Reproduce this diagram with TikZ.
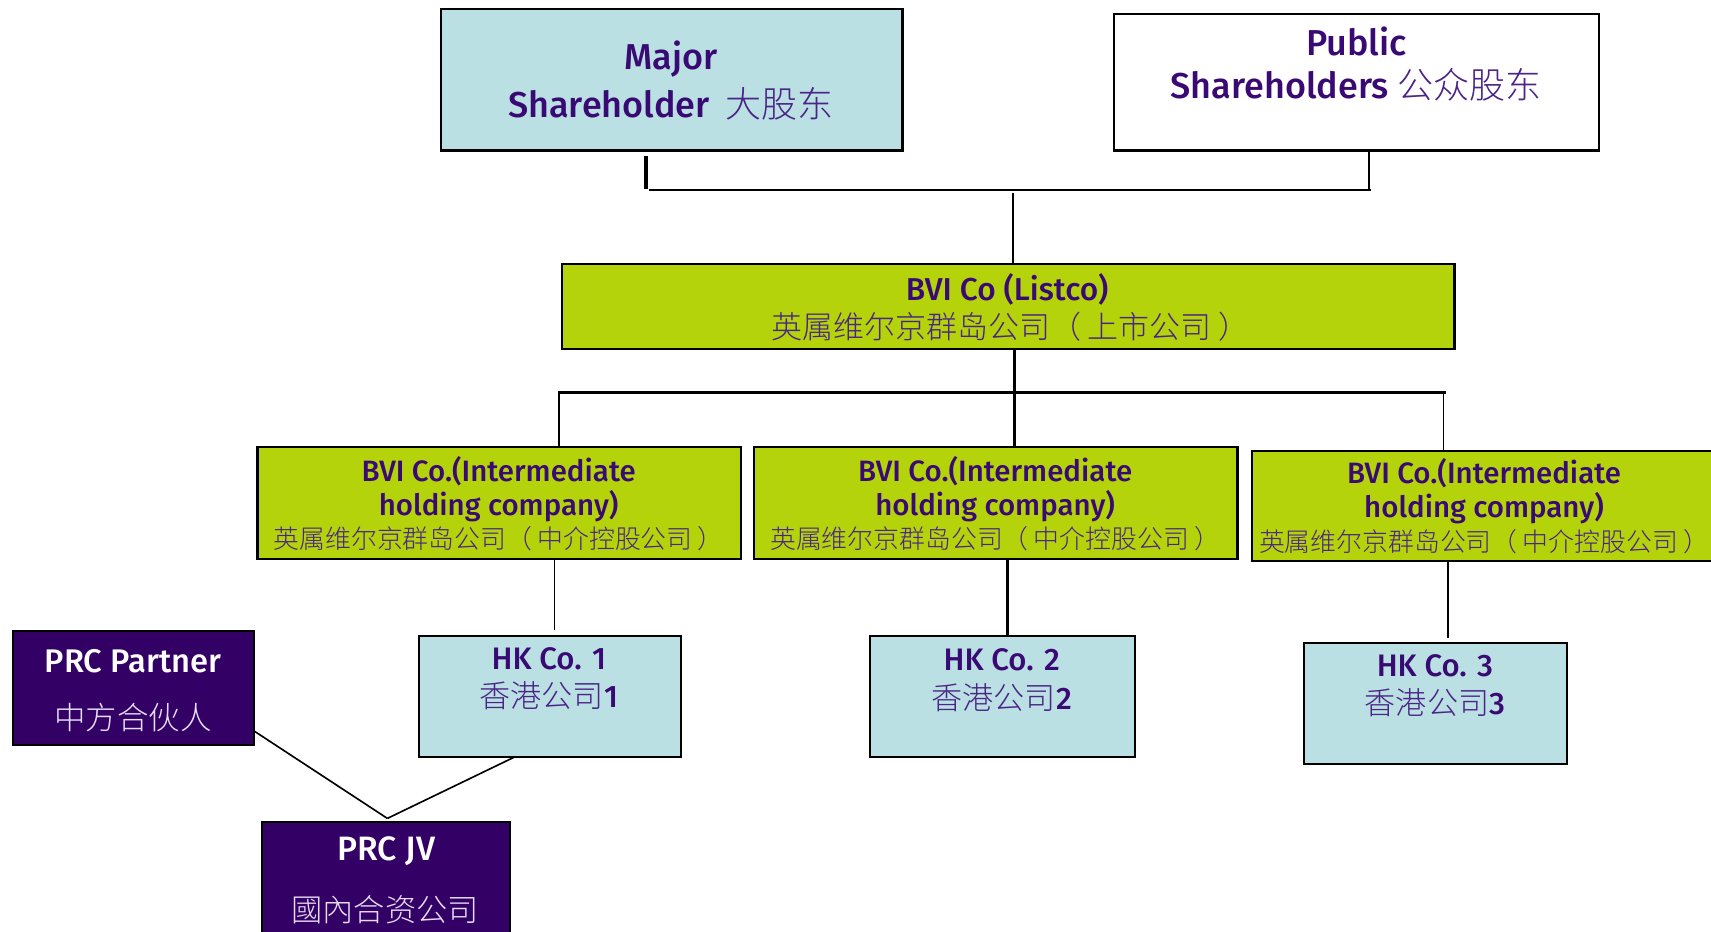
\documentclass[tikz,border=0pt]{standalone}
\usepackage{fontspec}
\setmainfont{Fira Sans}[BoldFont={Fira Sans Medium}]
\newfontfamily\cjk{Noto Sans CJK SC Light}
\usetikzlibrary{calc}
\definecolor{lblue}{HTML}{BBE0E3}
\definecolor{lgreen}{HTML}{B5D30B}
\definecolor{dpurple}{HTML}{330066}
\definecolor{tpurple}{HTML}{3A0A74}
\definecolor{cpurple}{HTML}{4A2486}
\definecolor{lilac}{HTML}{E6DDF2}
\newcommand{\fs}[1]{\fontsize{#1}{#1}\selectfont}
\newcommand{\lp}{（\hspace{0.2em}}
\newcommand{\rp}{\hspace{0.2em}）}
\begin{document}
\begin{tikzpicture}[x=1pt,y=-1pt,
  box/.style={draw=black, line width=2pt, inner sep=0pt, outer sep=0pt, rectangle},
  txt/.style={inner sep=0pt, anchor=center, text=tpurple, font=\bfseries},
  wtxt/.style={inner sep=0pt, anchor=center, text=white, font=\bfseries},
  conn/.style={draw=black, line width=2pt},
  thin/.style={draw=black, line width=1.5pt},
  thick/.style={draw=black, line width=3pt}]
\useasboundingbox (0,0) rectangle (1568,854);
% boxes
\node[box, fill=lblue, minimum width=423pt, minimum height=130pt] (major) at (615.5,73) {};
\node[box, fill=white, minimum width=444pt, minimum height=125pt] (public) at (1243,75.5) {};
\node[box, fill=lgreen, minimum width=818pt, minimum height=78pt] (listco) at (924,281) {};
\node[box, fill=lgreen, minimum width=443pt, minimum height=102pt] (int1) at (457.5,461) {};
\node[box, fill=lgreen, minimum width=443pt, minimum height=102pt] (int2) at (912.5,461) {};
\node[box, fill=lgreen, minimum width=428pt, minimum height=101pt] (int3) at (1361,463.5) {};
\node[box, fill=lblue, minimum width=240pt, minimum height=111pt] (hk1) at (504,638.5) {};
\node[box, fill=lblue, minimum width=243pt, minimum height=111pt] (hk2) at (918.5,638.5) {};
\node[box, fill=lblue, minimum width=241pt, minimum height=111pt] (hk3) at (1315.5,644.5) {};
\node[box, fill=dpurple, minimum width=221pt, minimum height=105pt] (prcp) at (122.5,630.5) {};
\node[box, fill=dpurple, minimum width=227pt, minimum height=110pt] (prcjv) at (353.5,808) {};
% texts
\node[txt] (t-major1) at (615,54) {\fs{33}Major};
\node[txt] (t-major2) at (615,95) {\fs{33}Shareholder\hspace{0.45em}{\cjk\mdseries\color{cpurple}大股东}};
\node[txt] (t-pub1) at (1243,38) {\fs{33}Public};
\node[txt] (t-pub2) at (1243,78) {\fs{33}Shareholders {\cjk\mdseries\color{cpurple}公众股东}};
\node[txt] (t-list1) at (923,265) {\fs{29}BVI Co (Listco)};
\node[txt, font=\cjk, text=cpurple] (t-list2) at (926,299) {\fs{28.4}英属维尔京群岛公司\lp 上市公司\rp};
\foreach \n/\x/\y/\cx in {1/457/432/457, 2/912/432/912, 3/1360/434/1360}{
  \node[txt] (t-int\n a) at (\x,\y) {\fs{27}BVI Co.(Intermediate};
  \node[txt] (t-int\n b) at (\x,\y+32) {\fs{27}holding company)};
  \node[txt, font=\cjk, text=cpurple] (t-int\n c) at (\cx,\y+62) {\fs{23.7}英属维尔京群岛公司\lp 中介控股公司\rp};
}
\foreach \n/\x/\y in {1/503/604, 2/918/605, 3/1315/610}{
  \node[txt] (t-hk\n a) at (\x,\y) {\fs{28.5}HK Co. \n};
  \node[txt] (t-hk\n b) at (\x,\y+34) {\fs{28.5}{\cjk\mdseries\color{cpurple}香港公司}\n};
}
\node[wtxt] (t-prcp1) at (122,606) {\fs{30}PRC Partner};
\node[wtxt, font=\cjk, text=lilac] (t-prcp2) at (122,658) {\fs{28.8}中方合伙人};
\node[wtxt] (t-jv1) at (354,780) {\fs{31}PRC JV};
\node[wtxt, font=\cjk, text=lilac] (t-jv2) at (353,834) {\fs{28.6}國內合资公司};
% connectors
\coordinate (topbus) at (928,174);
\coordinate (midbus) at (930,360);
\draw[thick] ($(major.south)+(-23.5,5)$) -- ($(major.south)+(-23.5,35)$);
\draw[line width=2.5pt] ($(major.south)+(-20.5,36)$) -- (topbus) -- (1256,174);
\draw[thin] ($(public.south)+(11.5,0)$) -- ($(public.south)+(11.5,36.5)$);
\draw[conn] ($(topbus)+(0,3)$) -- (topbus |- listco.north);
\draw[line width=2.5pt] (midbus |- listco.south) -- (midbus |- int2.north);
\draw[thick] (511,360) -- (midbus) -- (1325,360);
\draw[thin] (512,360) -- (512,0 |- int1.north);
\draw[thin] (1323,360) -- (1323,0 |- int3.north);
\draw[thin] (508,0 |- int1.south) -- (508,577);
\draw[line width=2.5pt] (923,0 |- int2.south) -- (923,0 |- hk2.north);
\draw[conn] (1327,0 |- int3.south) -- (1327,585);
\coordinate (jvtop) at (355,750);
\draw[thin] (prcp.east |- 0,670) -- (jvtop);
\draw[thin] (471,0 |- hk1.south) -- (jvtop);
\end{tikzpicture}
\end{document}
